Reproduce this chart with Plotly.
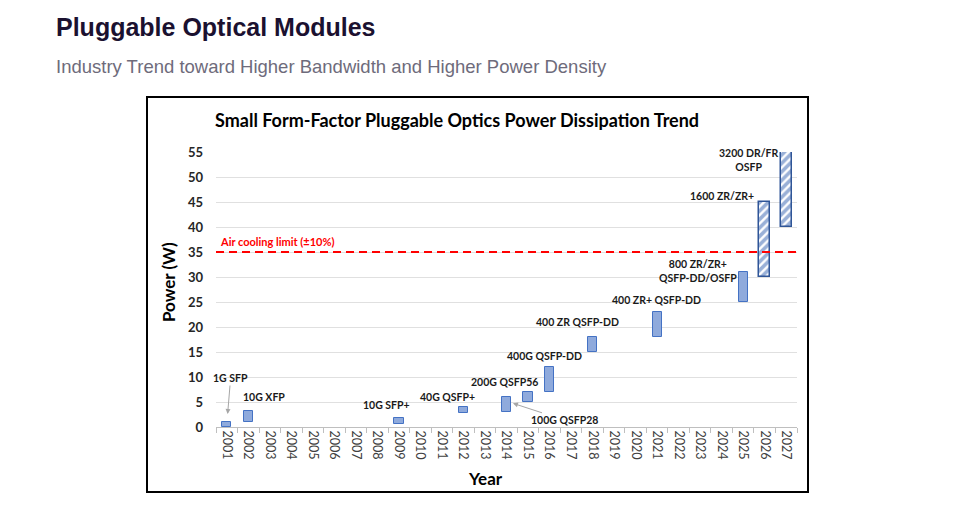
import plotly.graph_objects as go

# ---------------- data ----------------
years = ["2001", "2002", "2003", "2004", "2005", "2006", "2007", "2008", "2009",
         "2010", "2011", "2012", "2013", "2014", "2015", "2016", "2017", "2018",
         "2019", "2020", "2021", "2022", "2023", "2024", "2025", "2026", "2027"]

solid_years = ["2001", "2002", "2009", "2012", "2014", "2015", "2016", "2018", "2021", "2025"]
solid_low = [0, 1, 0.6, 2.9, 3, 5, 7, 15, 18, 25]
solid_high = [1.1, 3.3, 1.8, 4, 6, 7, 12, 18, 23, 31]

future_years = ["2026", "2027"]
future_low = [30, 40]
future_high = [45, 55]

air_limit = 35
y_ticks = [0, 5, 10, 15, 20, 25, 30, 35, 40, 45, 50, 55]

labels = ["1G SFP", "10G XFP", "10G SFP+", "40G QSFP+", "200G QSFP56", "100G QSFP28",
          "400G QSFP-DD", "400 ZR QSFP-DD", "400 ZR+ QSFP-DD",
          "800 ZR/ZR+<br>QSFP-DD/OSFP", "1600 ZR/ZR+", "3200 DR/FR<br>OSFP"]

# ---------------- geometry helpers (screen pixel -> paper) ----------------
OFF = 8                      # page body margin
W, H = 955 - OFF, 505 - OFF
L, R, T, B = 216, 797, 152, 427   # plot area in screen pixels


def px(x):
    return (x - L) / (R - L)


def py(y):
    return (B - y) / (B - T)


FONT = "Lato"

fig = go.Figure()
fig.add_trace(go.Bar(
    x=solid_years, y=[h - l for h, l in zip(solid_high, solid_low)], base=solid_low,
    width=0.43, marker=dict(color="#8faadc", line=dict(color="#4472c4", width=1)),
    cliponaxis=False, showlegend=False, hoverinfo="skip"))
fig.add_trace(go.Bar(
    x=future_years, y=[h - l for h, l in zip(future_high, future_low)], base=future_low,
    width=0.5,
    marker=dict(color="white", line=dict(color="#2f5597", width=1.5),
                pattern=dict(shape="/", fgcolor="#3461b0", bgcolor="white",
                             size=6, solidity=0.6)),
    cliponaxis=False, showlegend=False, hoverinfo="skip"))

# air cooling limit line
fig.add_shape(type="line", xref="paper", yref="y", x0=0, x1=1, y0=air_limit, y1=air_limit,
              line=dict(color="#ff0000", width=2, dash="8px,5px"), layer="above")

# chart frame
fig.add_shape(type="rect", xref="paper", yref="paper", x0=px(147), x1=px(808),
              y0=py(492), y1=py(97), line=dict(color="black", width=2))
# faint page edge
fig.add_shape(type="line", xref="paper", yref="paper", x0=px(2), x1=px(2),
              y0=py(505), y1=py(0), line=dict(color="#e6e6e6", width=1))

ann_font = dict(family=FONT, size=10.5, color="#1a1a1a", weight="bold")

# (label index, x category index, y value)
text_pos = [
    (1, 1.71, 6.1),
    (2, 7.40, 4.4),
    (3, 10.24, 6.1),
    (4, 12.93, 9.1),
    (6, 14.78, 14.2),
    (7, 16.29, 21.1),
    (8, 19.98, 25.5),
    (9, 21.9, 31.3),
    (10, 23.0, 46.3),
    (11, 24.23, 53.4),
]
for i, xi, yv in text_pos:
    fig.add_annotation(x=xi, y=yv, xref="x", yref="y", text=labels[i], showarrow=False,
                       font=ann_font, align="center", xanchor="center", yanchor="middle")

# arrows
fig.add_annotation(x=0.04, y=2.6, xref="x", yref="y", text=labels[0], showarrow=True,
                   ax=3, ay=-36, arrowcolor="#a6a6a6", arrowhead=2, arrowsize=1,
                   arrowwidth=1, font=ann_font)
fig.add_annotation(x=13.3, y=4.74, xref="x", yref="y", text=labels[5], showarrow=True,
                   ax=52, ay=17, arrowcolor="#a6a6a6", arrowhead=2, arrowsize=1,
                   arrowwidth=1, font=ann_font)

fig.add_annotation(x=-0.42, y=37.06, xref="x", yref="y", xanchor="left", yanchor="middle",
                   text="Air cooling limit (\u00b110%)", showarrow=False,
                   font=dict(family=FONT, size=11, color="#ff0000", weight="bold"))


def paper_text(text, sx, sy, size, color="black", bold=True, family=FONT,
               xanchor="center", angle=0):
    fig.add_annotation(x=px(sx), y=py(sy), xref="paper", yref="paper", text=text,
                       showarrow=False, xanchor=xanchor, yanchor="middle", textangle=angle,
                       font=dict(family=family, size=size, color=color,
                                 weight="bold" if bold else "normal"))


paper_text("Small Form-Factor Pluggable Optics Power Dissipation Trend", 457, 120, 18)
paper_text("Power (W)", 168, 282, 17, angle=-90)
paper_text("Year", 485, 478, 17)
paper_text("Pluggable Optical Modules", 54, 27, 25, color="#1b1130",
           family="Liberation Sans", xanchor="left")
paper_text("Industry Trend toward Higher Bandwidth and Higher Power Density", 54, 66, 18.5,
           color="#6e6b7b", bold=False, family="Liberation Sans", xanchor="left")

fig.update_layout(
    width=W, height=H,
    margin=dict(l=L - OFF, r=W - (R - OFF), t=T - OFF, b=H - (B - OFF), pad=0),
    paper_bgcolor="white", plot_bgcolor="white",
    barmode="overlay", bargap=0,
    xaxis=dict(type="category", categoryorder="array", categoryarray=years,
               tickvals=years, ticktext=years, tickangle=90,
               tickfont=dict(family=FONT, size=12.5, color="#404040"),
               showline=True, linecolor="#bfbfbf", linewidth=1,
               ticks="outside", tickson="boundaries", ticklen=5, tickcolor="#bfbfbf",
               showgrid=False, range=[-0.5, len(years) - 0.5], fixedrange=True),
    yaxis=dict(range=[0, 55], tickvals=y_ticks, showgrid=True, gridcolor="#e0e0e0",
               gridwidth=1, zeroline=False, showline=False, ticks="",
               tickfont=dict(family=FONT, size=13, color="#262626", weight="bold"),
               ticklabelstandoff=12, fixedrange=True),
)

fig.write_html("out.html")
